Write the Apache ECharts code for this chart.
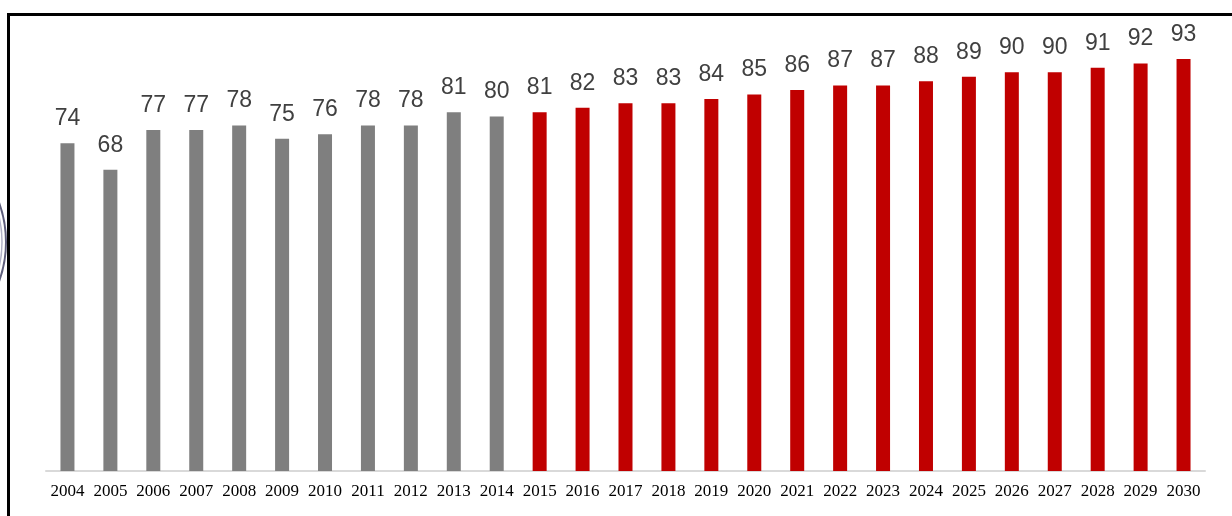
<!DOCTYPE html>
<html>
<head>
<meta charset="utf-8">
<script src="https://cdn.jsdelivr.net/npm/echarts@6/dist/echarts.min.js"></script>
<style>
  html, body { margin: 0; padding: 0; background: #fff; }
  #chart { width: 1232px; height: 516px; }
</style>
</head>
<body>
<div id="chart"></div>
<script>
// Yearly values: actuals through 2014, projections from 2015
const years = ['2004','2005','2006','2007','2008','2009','2010','2011','2012','2013','2014',
               '2015','2016','2017','2018','2019','2020','2021','2022','2023','2024','2025',
               '2026','2027','2028','2029','2030'];
const actualValues = [74, 68, 77, 77, 78, 75, 76, 78, 78, 81, 80];
const projectedValues = [81, 82, 83, 83, 84, 85, 86, 87, 87, 88, 89, 90, 90, 91, 92, 93];

const ACTUAL_COLOR = '#7f7f7f';
const PROJECTED_COLOR = '#c00000';

const barData = years.map((y, i) => {
  const isActual = i < actualValues.length;
  const v = isActual ? actualValues[i] : projectedValues[i - actualValues.length];
  return { value: v, itemStyle: { color: isActual ? ACTUAL_COLOR : PROJECTED_COLOR } };
});

const chart = echarts.init(document.getElementById('chart'), null, { renderer: 'canvas' });

chart.setOption({
  animation: false,
  backgroundColor: '#ffffff',
  grid: { left: 46, right: 27, top: 28, bottom: 45, containLabel: false },
  xAxis: {
    type: 'category',
    data: years,
    axisLine: { show: true, lineStyle: { color: '#d9d9d9', width: 2 } },
    axisTick: { show: false },
    axisLabel: {
      color: '#000000',
      fontFamily: '"Liberation Serif", "Times New Roman", serif',
      fontSize: 17,
      margin: 12,
      interval: 0
    }
  },
  yAxis: {
    type: 'value',
    min: 0,
    max: 100,
    show: false,
    splitLine: { show: false }
  },
  series: [{
    type: 'bar',
    data: barData,
    barWidth: 14,
    label: {
      show: true,
      position: 'top',
      distance: 13,
      color: '#404040',
      fontFamily: '"Liberation Sans Narrow", "Arial Narrow", "Liberation Sans", Arial, sans-serif',
      fontSize: 23
    }
  }],
  graphic: [
    // frame lines along the top and left edge
    { type: 'line', shape: { x1: 9, y1: 14.5, x2: 1232, y2: 14.5 }, style: { stroke: '#000', lineWidth: 3 } },
    { type: 'line', shape: { x1: 8.5, y1: 13, x2: 8.5, y2: 516 }, style: { stroke: '#000', lineWidth: 3 } },
    // partial seal at the left margin
    { type: 'circle', shape: { cx: -110, cy: 242, r: 116 }, style: { fill: 'none', stroke: '#5d5d7a', lineWidth: 2 } },
    { type: 'circle', shape: { cx: -110, cy: 242, r: 112 }, style: { fill: 'none', stroke: '#b0b0c4', lineWidth: 1.5 } }
  ]
});
</script>
</body>
</html>
